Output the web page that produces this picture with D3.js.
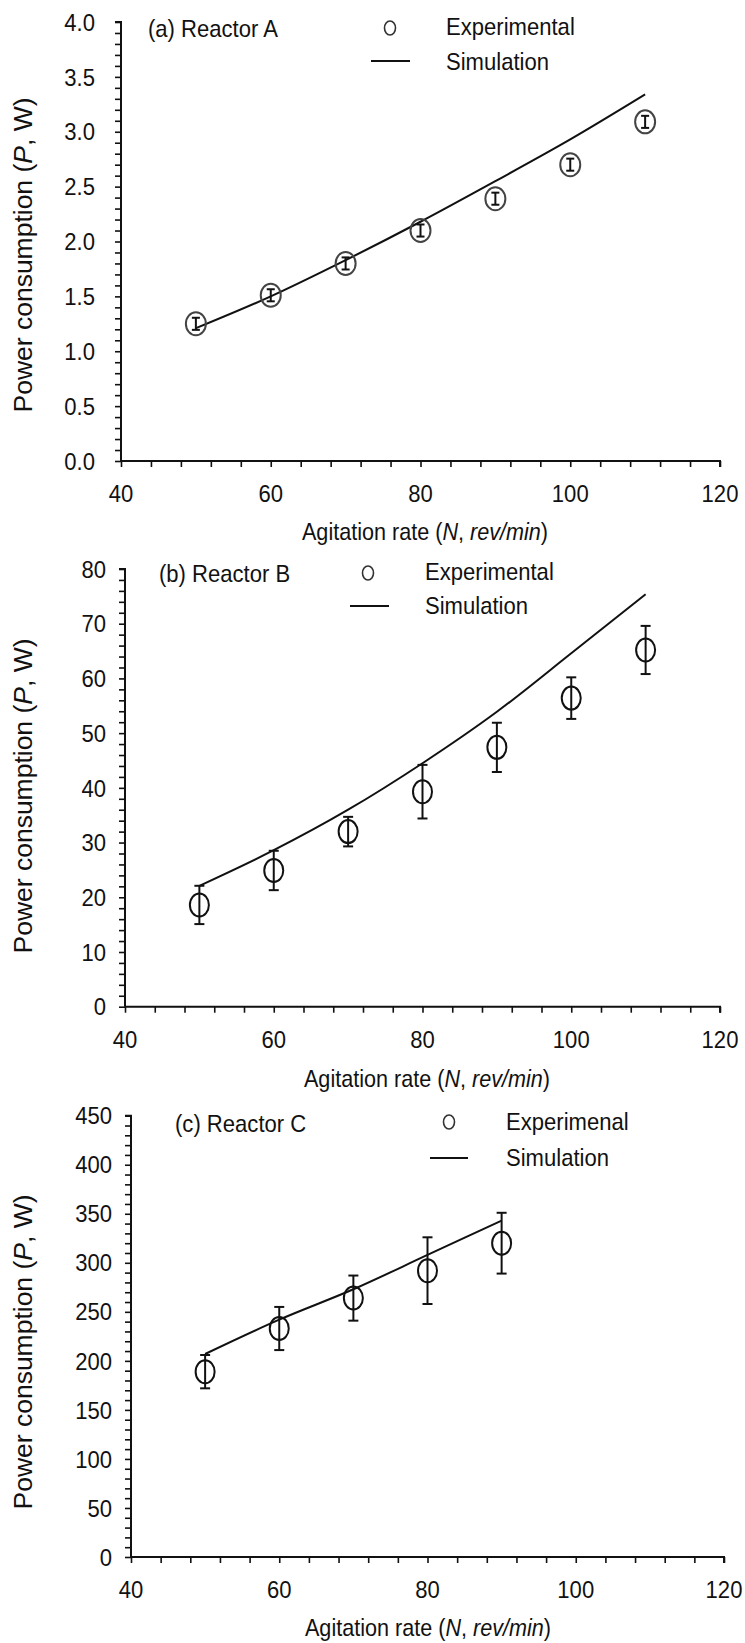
<!DOCTYPE html>
<html>
<head>
<meta charset="utf-8">
<script src="https://cdn.jsdelivr.net/npm/d3@7"></script>
<style>
  html, body { margin: 0; padding: 0; background: #fff; }
  svg { display: block; }
  text { font-family: Arial, "Liberation Sans", sans-serif; fill: #111; }
</style>
</head>
<body>
<svg id="chart" width="745" height="1643"></svg>
<script>
// ---------- data ----------
const xTickValues = [40, 60, 80, 100, 120];

const rpmA = [50, 60, 70, 80, 90, 100, 110];
const expA = [1.25, 1.51, 1.80, 2.10, 2.39, 2.70, 3.09];
const errA = [0.055, 0.055, 0.055, 0.055, 0.055, 0.055, 0.055];
const simA = [1.21, 1.50, 1.83, 2.18, 2.55, 2.93, 3.34];
const yTicksA = [0, 0.5, 1.0, 1.5, 2.0, 2.5, 3.0, 3.5, 4.0];

const rpmB = [50, 60, 70, 80, 90, 100, 110];
const expB = [18.6, 24.9, 32.0, 39.3, 47.4, 56.4, 65.2];
const errB = [3.5, 3.6, 2.7, 4.9, 4.5, 3.8, 4.4];
const simB = [22.1, 28.6, 36.0, 44.5, 53.9, 64.6, 75.4];
const yTicksB = [0, 10, 20, 30, 40, 50, 60, 70, 80];

const rpmC = [50, 60, 70, 80, 90];
const expC = [189, 233, 264, 292, 320];
const errC = [17, 22, 23, 34, 31];
const simC = [207, 242, 273, 308, 343];
const yTicksC = [0, 50, 100, 150, 200, 250, 300, 350, 400, 450];

const panelLabels = ["(a) Reactor A", "(b) Reactor B", "(c) Reactor C"];
const legendExp = ["Experimental", "Experimental", "Experimenal"];
const legendSim = "Simulation";
const xTitleMain = "Agitation rate (";
const yTitleMain = "Power consumption (";

// ---------- layout ----------
const svg = d3.select("#chart");
const SX = 0.92;      // horizontal condensation of the text
const FS = "24px";

function htext(g, x, y, anchor, sx) {
  return g.append("text")
    .attr("transform", `translate(${x},${y}) scale(${sx || SX},1)`)
    .attr("text-anchor", anchor || "start")
    .style("font-size", FS);
}

const panels = [
  { rpm: rpmA, exp: expA, err: errA, sim: simA, yTicks: yTicksA, yMax: 4, yMinor: 0.1, fmt: d3.format(".1f"),
    x0: 121, x1: 720, yb: 461, yt: 22, labGap: 26, yTitleY: 255, xTitleX: 425, xTitleY: 540,
    lab: [148, 37], legO: [390, 28], legE: [446, 35], legL: [371, 410, 61], legS: [446, 70],
    markStroke: "#444", rx: 10, ry: 11.5 },
  { rpm: rpmB, exp: expB, err: errB, sim: simB, yTicks: yTicksB, yMax: 80, yMinor: 2, fmt: d3.format("d"),
    x0: 125, x1: 720, yb: 1006.7, yt: 569, labGap: 19, yTitleY: 796, xTitleX: 427, xTitleY: 1087,
    lab: [159, 582], legO: [368, 573], legE: [425, 580], legL: [350, 389, 606], legS: [425, 614],
    markStroke: "#111", rx: 9.5, ry: 11.5 },
  { rpm: rpmC, exp: expC, err: errC, sim: simC, yTicks: yTicksC, yMax: 450, yMinor: 10, fmt: d3.format("d"),
    x0: 131, x1: 724, yb: 1557, yt: 1115.7, labGap: 19, yTitleY: 1352, xTitleX: 428, xTitleY: 1636,
    lab: [175, 1132], legO: [449, 1122], legE: [506, 1130], legL: [430, 468, 1158], legS: [506, 1166],
    markStroke: "#111", rx: 9.5, ry: 11.5 }
];

panels.forEach((p, i) => {
  const x = d3.scaleLinear().domain([40, 120]).range([p.x0, p.x1]);
  const y = d3.scaleLinear().domain([0, p.yMax]).range([p.yb, p.yt]);
  const g = svg.append("g");

  // minor ticks (all ticks same length, outside)
  const yMinorTicks = d3.range(0, p.yMax + p.yMinor / 2, p.yMinor);
  const xMinorTicks = d3.range(40, 120 + 0.001, 4);

  const yAxis = d3.axisLeft(y).tickValues(yMinorTicks).tickSize(6).tickFormat("");
  const ya = g.append("g").attr("transform", `translate(${p.x0},0)`).call(yAxis);
  const xAxis = d3.axisBottom(x).tickValues(xMinorTicks).tickSize(6).tickFormat("");
  const xa = g.append("g").attr("transform", `translate(0,${p.yb})`).call(xAxis);
  [ya, xa].forEach(a => {
    a.select(".domain").attr("stroke", "#111").attr("stroke-width", 2);
    a.selectAll(".tick line").attr("stroke", "#111").attr("stroke-width", 1.6);
  });
  ya.select(".domain").attr("d", `M0,${p.yb}V${p.yt}H-6`);
  xa.select(".domain").attr("d", `M${p.x0},0H${p.x1}V6`);

  // tick labels
  p.yTicks.forEach(d => htext(g, p.x0 - p.labGap, y(d), "end").attr("dy", "0.36em").text(p.fmt(d)));
  xTickValues.forEach(d => htext(g, x(d), p.yb + 41, "middle").text(d));

  // axis titles
  const xt = htext(g, p.xTitleX, p.xTitleY, "middle", 0.9);
  xt.append("tspan").text(xTitleMain);
  xt.append("tspan").style("font-style", "italic").text("N");
  xt.append("tspan").text(", ");
  xt.append("tspan").style("font-style", "italic").text("rev/min");
  xt.append("tspan").text(")");

  const yt = g.append("text").attr("transform", `translate(32,${p.yTitleY}) rotate(-90) scale(1,0.95)`)
    .attr("text-anchor", "middle").style("font-size", "26.5px");
  yt.append("tspan").text(yTitleMain);
  yt.append("tspan").style("font-style", "italic").text("P");
  yt.append("tspan").text(", W)");

  // simulation line
  const line = d3.line().x(d => x(d[0])).y(d => y(d[1])).curve(d3.curveMonotoneX);
  g.append("path").datum(p.rpm.map((r, k) => [r, p.sim[k]]))
    .attr("d", line).attr("fill", "none").attr("stroke", "#111").attr("stroke-width", 2);

  // error bars
  const cap = i === 0 ? 4 : 5;
  const eb = g.selectAll(".eb").data(p.rpm.map((r, k) => ({ r, v: p.exp[k], e: p.err[k] }))).enter().append("g");
  eb.append("line").attr("x1", d => x(d.r)).attr("x2", d => x(d.r))
    .attr("y1", d => y(d.v - d.e)).attr("y2", d => y(d.v + d.e))
    .attr("stroke", "#111").attr("stroke-width", 2);
  [-1, 1].forEach(sgn => {
    eb.append("line").attr("x1", d => x(d.r) - cap).attr("x2", d => x(d.r) + cap)
      .attr("y1", d => y(d.v + sgn * d.e)).attr("y2", d => y(d.v + sgn * d.e))
      .attr("stroke", "#111").attr("stroke-width", 2);
  });

  // markers
  g.selectAll(".mk").data(p.rpm.map((r, k) => ({ r, v: p.exp[k] }))).enter().append("ellipse")
    .attr("cx", d => x(d.r)).attr("cy", d => y(d.v)).attr("rx", p.rx).attr("ry", p.ry)
    .attr("fill", "none").attr("stroke", p.markStroke).attr("stroke-width", 2);

  // panel label & legend
  htext(g, p.lab[0], p.lab[1]).text(panelLabels[i]);
  g.append("ellipse").attr("cx", p.legO[0]).attr("cy", p.legO[1]).attr("rx", 5.5).attr("ry", 7)
    .attr("fill", "none").attr("stroke", "#333").attr("stroke-width", 1.6);
  htext(g, p.legE[0], p.legE[1]).text(legendExp[i]);
  g.append("line").attr("x1", p.legL[0]).attr("x2", p.legL[1]).attr("y1", p.legL[2]).attr("y2", p.legL[2])
    .attr("stroke", "#111").attr("stroke-width", 2);
  htext(g, p.legS[0], p.legS[1]).text(legendSim);
});
</script>
</body>
</html>
